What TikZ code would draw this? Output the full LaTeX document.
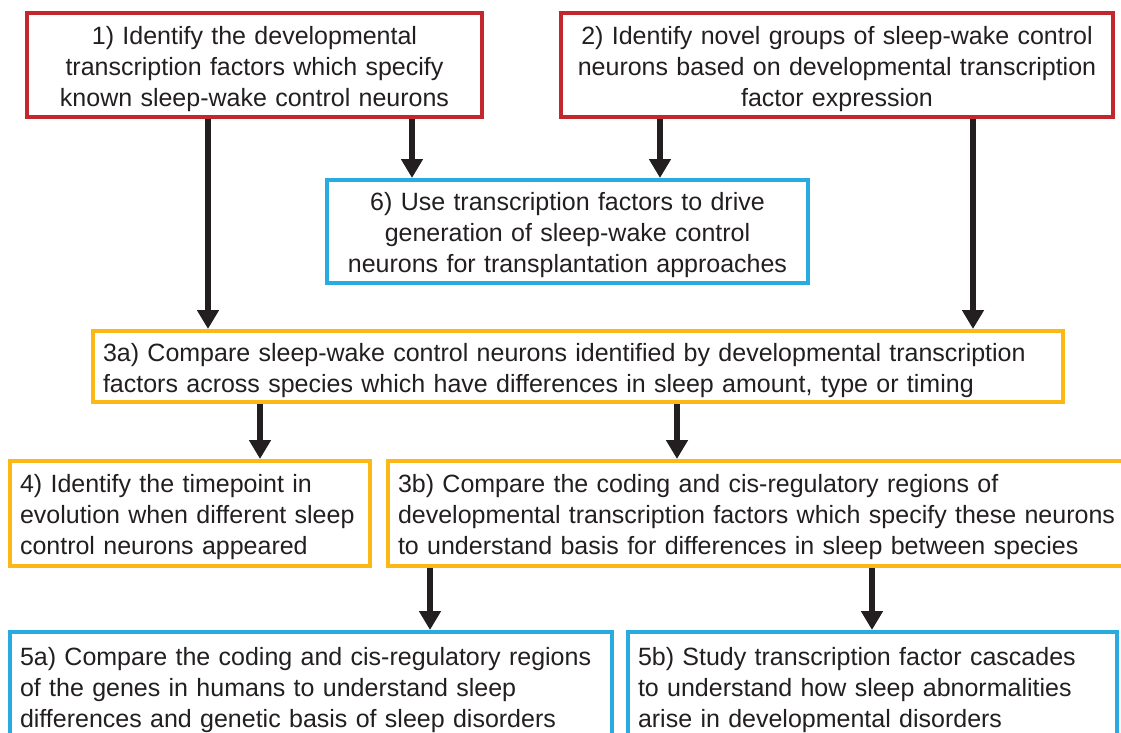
\documentclass[tikz,border=0pt]{standalone}
\usepackage{fontspec}
\setmainfont{Liberation Sans}
\usetikzlibrary{arrows.meta}
\definecolor{boxred}{HTML}{C1272D}
\definecolor{boxblue}{HTML}{29ABE2}
\definecolor{boxgold}{HTML}{FBB817}
\definecolor{inkgray}{HTML}{231F20}
\begin{document}
\begin{tikzpicture}[x=1pt, y=-1pt,
    box/.style={draw, line width=4pt, fill=white, inner xsep=10pt, inner ysep=0pt,
        text=inkgray, font=\fontsize{25}{31}\selectfont,
        execute at begin node={\rule{0pt}{26pt}}},
    redbox/.style={box, draw=boxred, align=center},
    bluebox/.style={box, draw=boxblue},
    goldbox/.style={box, draw=boxgold, align=left},
    flow/.style={line width=6pt, draw=inkgray, -{Triangle[width=21pt,length=19pt]}}]
    \useasboundingbox (0,0) rectangle (1121,732);
    \clip (0,0) rectangle (1121,732);

    % top row
    \node[redbox, text width=435pt, minimum height=104pt] (ident1) at (254.5,65)
        {1) Identify the developmental\\ transcription factors which specify\\ known sleep-wake control neurons};
    \node[redbox, text width=532pt, minimum height=104pt] (ident2) at (837,65)
        {2) Identify novel groups of sleep-wake control\\ neurons based on developmental transcription\\ factor expression};
    \node[bluebox, align=center, text width=461pt, minimum height=103pt] (generate6) at (567.5,231.5)
        {6) Use transcription factors to drive\\ generation of sleep-wake control\\ neurons for transplantation approaches};

    % middle
    \node[goldbox, text width=950pt, minimum height=71pt] (compare3a) at (578,366.5)
        {3a) Compare sleep-wake control neurons identified by developmental transcription\\ factors across species which have differences in sleep amount, type or timing};
    \node[goldbox, text width=340pt, minimum height=105pt] (timepoint4) at (190,513.5)
        {4) Identify the timepoint in\\ evolution when different sleep\\ control neurons appeared};
    \node[goldbox, text width=732pt, minimum height=105pt] (compare3b) at (764,513.5)
        {3b) Compare the coding and cis-regulatory regions of\\ developmental transcription factors which specify these neurons\\ to understand basis for differences in sleep between species};

    % bottom row
    \node[bluebox, align=left, text width=582pt, minimum height=108pt] (humans5a) at (311,686)
        {5a) Compare the coding and cis-regulatory regions\\ of the genes in humans to understand sleep\\ differences and genetic basis of sleep disorders};
    \node[bluebox, align=left, text width=469pt, minimum height=108pt] (cascade5b) at (872.5,686)
        {5b) Study transcription factor cascades\\ to understand how sleep abnormalities\\ arise in developmental disorders};

    % arrows
    \draw[flow] (ident1.south -| 208,0) -- (compare3a.north -| 208,0);
    \draw[flow] (ident1.south -| 412,0) -- (generate6.north -| 412,0);
    \draw[flow] (ident2.south -| 660,0) -- (generate6.north -| 660,0);
    \draw[flow] (ident2.south -| 973,0) -- (compare3a.north -| 973,0);
    \draw[flow] (compare3a.south -| 260,0) -- (timepoint4.north -| 260,0);
    \draw[flow] (compare3a.south -| 677,0) -- (compare3b.north -| 677,0);
    \draw[flow] (compare3b.south -| 430,0) -- (humans5a.north -| 430,0);
    \draw[flow] (compare3b.south -| 872,0) -- (cascade5b.north -| 872,0);
\end{tikzpicture}
\end{document}
